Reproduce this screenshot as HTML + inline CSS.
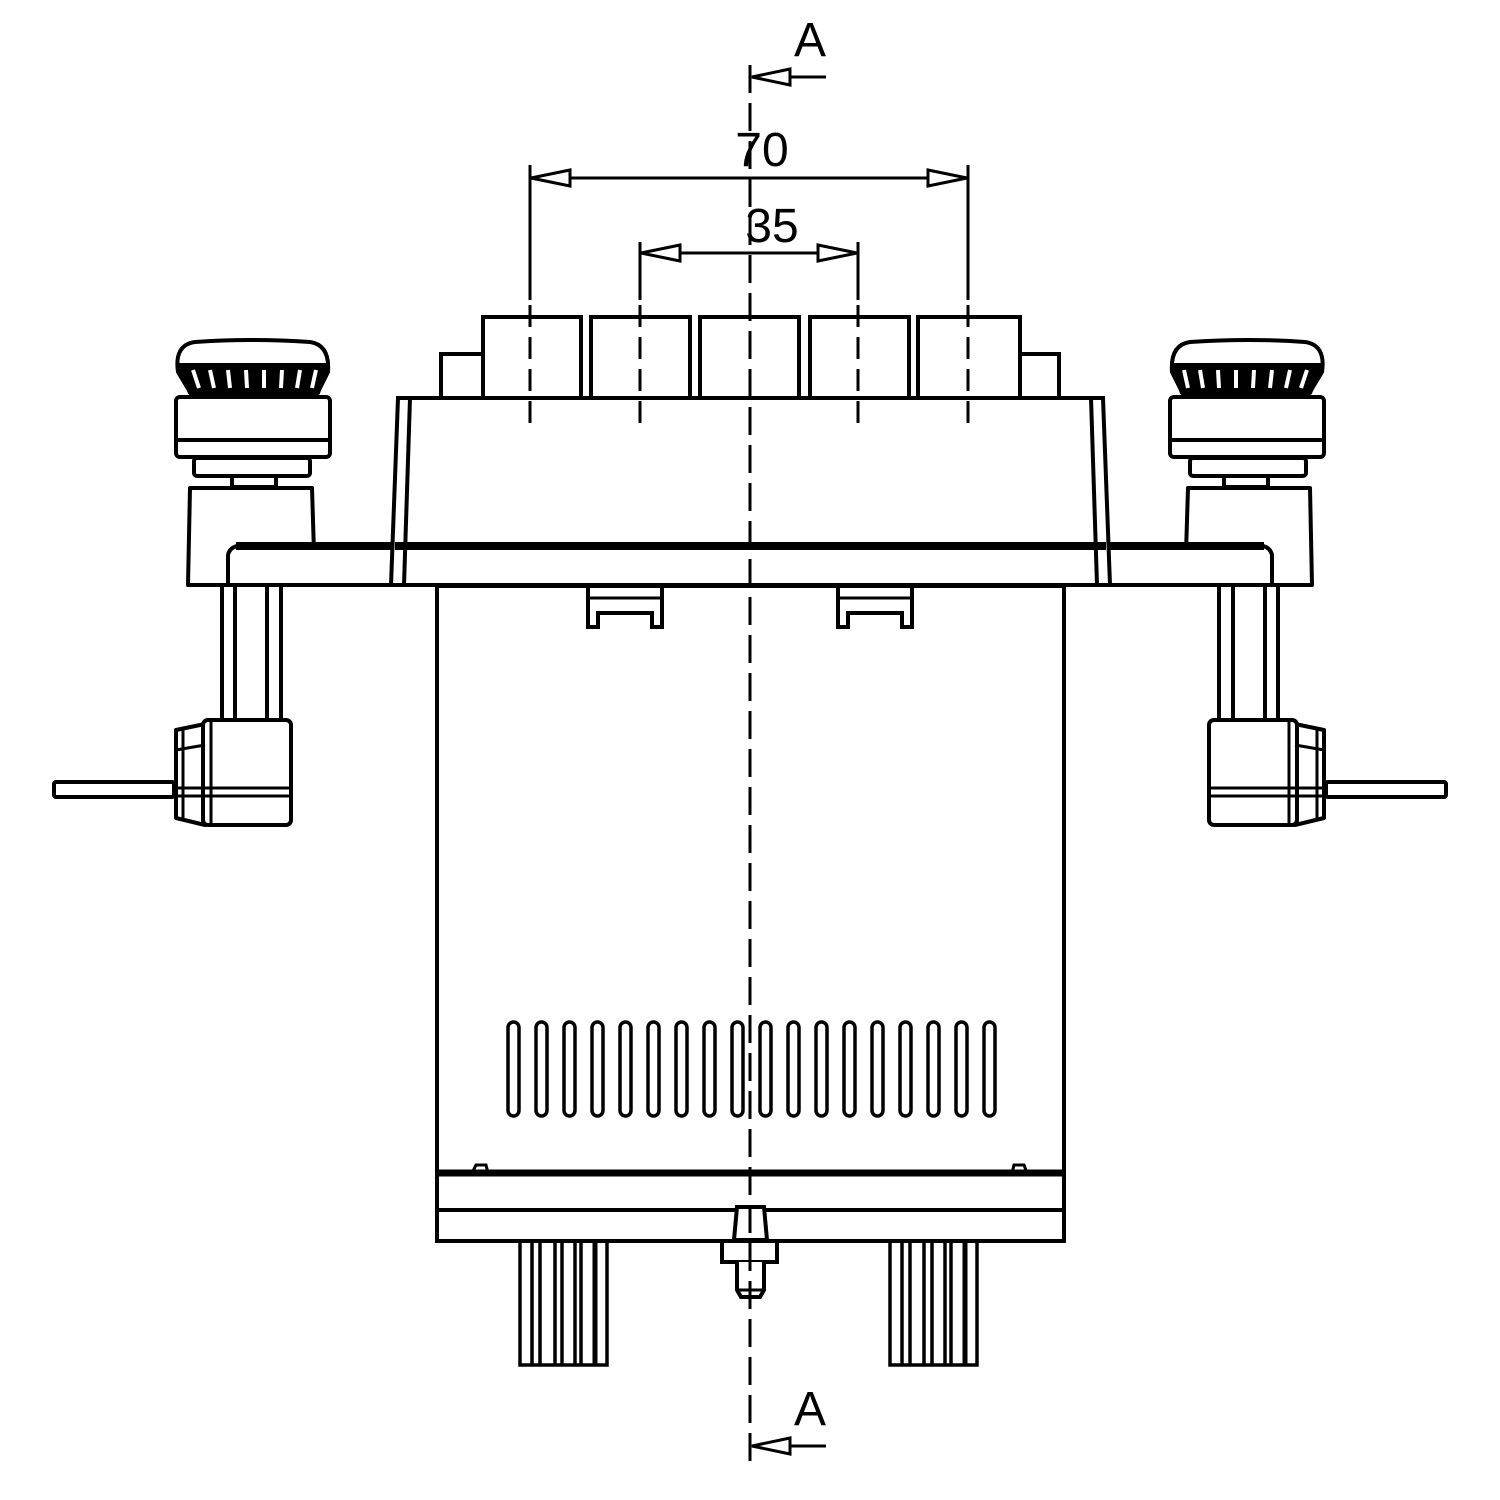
<!DOCTYPE html>
<html><head><meta charset="utf-8"><style>html,body{margin:0;padding:0;background:#fff}svg{display:block}</style></head>
<body>
<svg width="1500" height="1500" viewBox="0 0 1500 1500" xmlns="http://www.w3.org/2000/svg">
<defs>
<g id="side" fill="#fff" stroke="#000" stroke-width="4" stroke-linejoin="round">
  <path d="M178,372 Q174,345 195,342 Q250,338 310,342 Q330,345 328,372 L318,392 L190,392 Z"/>
  <path d="M178,365 L328,365 L318,393 L190,393 Z" fill="#000"/>
  <g stroke="#fff" stroke-width="4">
    <line x1="193" y1="370" x2="199" y2="388"/><line x1="210" y1="370" x2="214" y2="388"/>
    <line x1="228" y1="370" x2="230" y2="388"/><line x1="246" y1="370" x2="247" y2="388"/>
    <line x1="264" y1="370" x2="264" y2="388"/><line x1="282" y1="370" x2="281" y2="388"/>
    <line x1="300" y1="370" x2="297" y2="388"/><line x1="316" y1="370" x2="312" y2="388"/>
  </g>
  <rect x="176" y="397" width="154" height="60" rx="4"/>
  <line x1="178" y1="440" x2="328" y2="440"/>
  <rect x="194" y="458" width="116" height="18" rx="3"/>
  <rect x="232" y="476" width="44" height="11"/>
  <path d="M190,488 L312,488 L315,585 L188,585 Z"/>
  <line x1="222" y1="586" x2="222" y2="720"/><line x1="235" y1="586" x2="235" y2="720"/>
  <line x1="267" y1="586" x2="267" y2="720"/><line x1="281" y1="586" x2="281" y2="720"/>
  <rect x="54" y="782" width="120" height="15" rx="2"/>
  <path d="M176,730 L205,724 L205,825 L176,818 Z"/>
  <rect x="203" y="720" width="88" height="105" rx="5"/>
  <line x1="211" y1="722" x2="211" y2="823" stroke-width="3"/>
  <line x1="176" y1="788" x2="291" y2="788" stroke-width="3"/>
  <line x1="176" y1="796" x2="291" y2="796" stroke-width="3"/>
  <line x1="176" y1="750" x2="205" y2="745" stroke-width="3"/>
  <line x1="183" y1="730" x2="183" y2="818" stroke-width="3"/>
</g>
</defs>

<use href="#side"/>
<use href="#side" transform="translate(1500,0) scale(-1,1)"/>

<g fill="none" stroke="#000" stroke-width="4">
  <path d="M228,585 L228,555 Q230,545 245,545 L1255,545 Q1270,545 1272,555 L1272,585 Z" fill="#fff"/>
  <line x1="236" y1="546" x2="1264" y2="546" stroke-width="8"/>
  <path d="M398,398 L1103,398 L1110,585 L391,585 Z" fill="#fff"/>
  <line x1="410" y1="398" x2="404" y2="585"/>
  <line x1="1091" y1="398" x2="1097" y2="585"/>
  <line x1="395" y1="546" x2="1106" y2="546" stroke-width="8"/>
  <rect x="441" y="354" width="43" height="44" fill="#fff"/>
  <rect x="1016" y="354" width="43" height="44" fill="#fff"/>
  <rect x="483" y="317" width="98" height="81" fill="#fff"/>
  <rect x="591" y="317" width="99" height="81" fill="#fff"/>
  <rect x="700" y="317" width="99" height="81" fill="#fff"/>
  <rect x="810" y="317" width="99" height="81" fill="#fff"/>
  <rect x="918" y="317" width="102" height="81" fill="#fff"/>
  <rect x="437" y="586" width="627" height="655" fill="#fff"/>
  <line x1="437" y1="1173" x2="1064" y2="1173" stroke-width="7"/>
  <line x1="437" y1="1210" x2="1064" y2="1210"/>
  <path d="M472,1173 L476,1165 L486,1165 L488,1173 M1012,1173 L1014,1165 L1024,1165 L1027,1173" stroke-width="3"/>
  <path d="M588,588 L588,627 L598,627 L598,613 L652,613 L652,627 L662,627 L662,588" stroke-width="4"/>
  <line x1="590" y1="598" x2="660" y2="598" stroke-width="3"/>
  <path d="M838,588 L838,627 L848,627 L848,613 L902,613 L902,627 L912,627 L912,588" stroke-width="4"/>
  <line x1="840" y1="598" x2="910" y2="598" stroke-width="3"/>
  <g stroke-width="3.5">
    <rect x="508" y="1022" width="11" height="94" rx="5.5"/><rect x="536" y="1022" width="11" height="94" rx="5.5"/>
    <rect x="564" y="1022" width="11" height="94" rx="5.5"/><rect x="592" y="1022" width="11" height="94" rx="5.5"/>
    <rect x="620" y="1022" width="11" height="94" rx="5.5"/><rect x="648" y="1022" width="11" height="94" rx="5.5"/>
    <rect x="676" y="1022" width="11" height="94" rx="5.5"/><rect x="704" y="1022" width="11" height="94" rx="5.5"/>
    <rect x="732" y="1022" width="11" height="94" rx="5.5"/><rect x="760" y="1022" width="11" height="94" rx="5.5"/>
    <rect x="788" y="1022" width="11" height="94" rx="5.5"/><rect x="816" y="1022" width="11" height="94" rx="5.5"/>
    <rect x="844" y="1022" width="11" height="94" rx="5.5"/><rect x="872" y="1022" width="11" height="94" rx="5.5"/>
    <rect x="900" y="1022" width="11" height="94" rx="5.5"/><rect x="928" y="1022" width="11" height="94" rx="5.5"/>
    <rect x="956" y="1022" width="11" height="94" rx="5.5"/><rect x="984" y="1022" width="11" height="94" rx="5.5"/>
  </g>
  <g stroke-width="3.5">
    <rect x="520" y="1241" width="87" height="124"/>
    <line x1="532" y1="1241" x2="532" y2="1365"/><line x1="540" y1="1241" x2="540" y2="1365"/>
    <line x1="555" y1="1241" x2="555" y2="1365"/><line x1="562" y1="1241" x2="562" y2="1365"/>
    <line x1="575" y1="1241" x2="575" y2="1365"/><line x1="581" y1="1241" x2="581" y2="1365"/>
    <line x1="595" y1="1241" x2="595" y2="1365" stroke-width="5"/>
    <rect x="890" y="1241" width="87" height="124"/>
    <line x1="902" y1="1241" x2="902" y2="1365"/><line x1="910" y1="1241" x2="910" y2="1365"/>
    <line x1="924" y1="1241" x2="924" y2="1365"/><line x1="932" y1="1241" x2="932" y2="1365"/>
    <line x1="945" y1="1241" x2="945" y2="1365"/><line x1="951" y1="1241" x2="951" y2="1365"/>
    <line x1="965" y1="1241" x2="965" y2="1365" stroke-width="5"/>
  </g>
  <path d="M737,1207 L764,1207 L767,1240 L734,1240 Z" fill="#fff"/>
  <rect x="722" y="1241" width="55" height="21" fill="#fff"/>
  <path d="M737,1262 L737,1290 L741,1297 L760,1297 L764,1290 L764,1262" fill="#fff"/>
  <line x1="739" y1="1290" x2="762" y2="1290" stroke-width="3"/>
</g>

<line x1="750" y1="65" x2="750" y2="1462" stroke="#000" stroke-width="3" stroke-dasharray="28,10"/>
<g stroke="#000" stroke-width="3">
  <line x1="530" y1="165" x2="530" y2="300"/><line x1="968" y1="165" x2="968" y2="300"/>
  <line x1="640" y1="242" x2="640" y2="300"/><line x1="858" y1="242" x2="858" y2="300"/>
  <g stroke-dasharray="22,10">
    <line x1="530" y1="305" x2="530" y2="430"/><line x1="968" y1="305" x2="968" y2="430"/>
    <line x1="640" y1="305" x2="640" y2="430"/><line x1="858" y1="305" x2="858" y2="430"/>
  </g>
  <line x1="530" y1="178" x2="968" y2="178"/>
  <line x1="640" y1="253" x2="858" y2="253"/>
  <line x1="752" y1="77" x2="826" y2="77"/>
  <line x1="752" y1="1446" x2="826" y2="1446"/>
</g>
<g fill="#fff" stroke="#000" stroke-width="3">
  <path d="M531,178 L570,170 L570,186 Z"/><path d="M967,178 L928,170 L928,186 Z"/>
  <path d="M641,253 L680,245 L680,261 Z"/><path d="M857,253 L818,245 L818,261 Z"/>
  <path d="M752,77 L790,69 L790,85 Z"/><path d="M752,1446 L790,1438 L790,1454 Z"/>
</g>
<g font-family="Liberation Sans, sans-serif" font-size="48" fill="#000" text-anchor="middle">
  <text x="762" y="166">70</text>
  <text x="772" y="242">35</text>
  <text x="810" y="56">A</text>
  <text x="810" y="1425">A</text>
</g>
</svg>
</body></html>
